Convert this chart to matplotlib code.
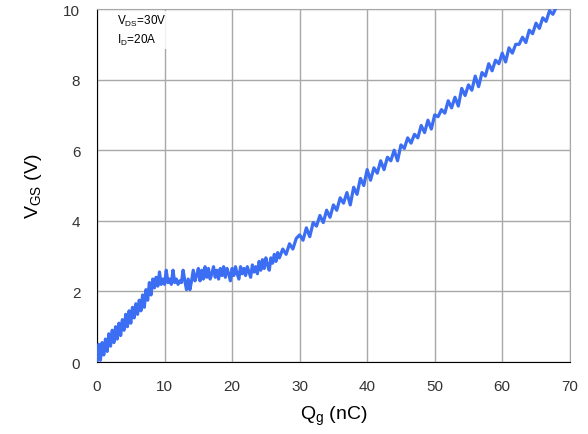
import matplotlib.pyplot as plt

plt.rcParams['font.family'] = ['Liberation Sans', 'DejaVu Sans']
plt.rcParams['mathtext.fontset'] = 'custom'
plt.rcParams['mathtext.rm'] = 'Liberation Sans'
plt.rcParams['mathtext.it'] = 'Liberation Sans'

# gate charge Qg (nC) and gate voltage Vgs (V)
# fine steps over the turn-on and the Miller plateau, coarser after
qg = [0.0, 0.25, 0.5, 0.75, 1.0, 1.25, 1.5, 1.75, 2.0, 2.25, 2.5, 2.75, 3.0, 3.25,
      3.5, 3.75, 4.0, 4.25, 4.5, 4.75, 5.0, 5.25, 5.5, 5.75, 6.0, 6.25, 6.5, 6.75,
      7.0, 7.25, 7.5, 7.75, 8.0, 8.25, 8.5, 8.75, 9.0, 9.25, 9.5, 9.75, 10.0, 10.25,
      10.5, 10.75, 11.0, 11.25, 11.5, 11.75, 12.0, 12.25, 12.5, 12.75, 13.0, 13.25,
      13.5, 13.75, 14.0, 14.25, 14.5, 14.75, 15.0, 15.25, 15.5, 15.75, 16.0, 16.25,
      16.5, 16.75, 17.0, 17.25, 17.5, 17.75, 18.0, 18.25, 18.5, 18.75, 19.0, 19.25,
      19.5, 19.75, 20.0, 20.25, 20.5, 20.75, 21.0, 21.25, 21.5, 21.75, 22.0, 22.25,
      22.5, 22.75, 23.0, 23.25, 23.5, 23.75, 24.0, 24.25, 24.5, 24.75, 25.0, 25.25,
      25.5, 25.75, 26.0, 26.25, 26.5, 26.75, 27.0,
      27.5, 28.0, 28.5, 29.0, 29.5, 30.0, 30.5, 31.0, 31.5, 32.0, 32.5, 33.0, 33.5,
      34.0, 34.5, 35.0, 35.5, 36.0, 36.5, 37.0, 37.5, 38.0, 38.5, 39.0, 39.5, 40.0,
      40.5, 41.0, 41.5, 42.0, 42.5, 43.0, 43.5, 44.0, 44.5, 45.0, 45.5, 46.0, 46.5,
      47.0, 47.5, 48.0, 48.5, 49.0, 49.5, 50.0, 50.5, 51.0, 51.5, 52.0, 52.5, 53.0,
      53.5, 54.0, 54.5, 55.0, 55.5, 56.0, 56.5, 57.0, 57.5, 58.0, 58.5, 59.0, 59.5,
      60.0, 60.5, 61.0, 61.5, 62.0, 62.5, 63.0, 63.5, 64.0, 64.5, 65.0, 65.5, 66.0,
      66.5, 67.0, 67.5, 68.0]
vgs = [0.0, 0.5, 0.05, 0.55, 0.2, 0.65, 0.3, 0.8, 0.45, 0.9, 0.55, 1.0, 0.65, 1.1,
       0.75, 1.2, 0.9, 1.35, 1.0, 1.45, 1.1, 1.55, 1.25, 1.65, 1.35, 1.75, 1.45, 1.9,
       1.55, 2.05, 1.75, 2.25, 1.9, 2.35, 2.1, 2.4, 2.15, 2.55, 2.2, 2.35, 2.2, 2.6,
       2.25, 2.35, 2.2, 2.6, 2.25, 2.35, 2.2, 2.3, 2.25, 2.6, 2.3, 2.05,
       2.35, 2.05, 2.3, 2.6, 2.3, 2.45, 2.65, 2.3, 2.6, 2.35, 2.7, 2.4,
       2.65, 2.35, 2.5, 2.7, 2.4, 2.6, 2.35, 2.65, 2.45, 2.7, 2.4, 2.65,
       2.5, 2.3, 2.65, 2.45, 2.7, 2.5, 2.35, 2.7, 2.5, 2.65, 2.45, 2.7,
       2.55, 2.4, 2.75, 2.55, 2.7, 2.5, 2.85, 2.6, 2.9, 2.65, 2.95, 2.75,
       2.6, 2.95, 2.8, 3.05, 2.85, 3.1, 2.95,
       3.2, 3.05, 3.35, 3.2, 3.5, 3.6, 3.45, 3.8, 3.55, 3.95, 3.85, 4.15, 3.95,
       4.3, 4.1, 4.45, 4.3, 4.65, 4.5, 4.8, 4.45, 4.95, 4.75, 5.2, 5.0, 5.45,
       5.15, 5.5, 5.35, 5.7, 5.45, 5.8, 5.7, 6.0, 5.7, 6.15, 6.05, 6.35, 6.2,
       6.45, 6.35, 6.7, 6.5, 6.85, 6.6, 7.0, 6.95, 7.15, 7.05, 7.4, 7.2, 7.5,
       7.25, 7.75, 7.55, 7.85, 7.7, 8.1, 7.8, 8.2, 8.1, 8.45, 8.25, 8.55, 8.45,
       8.75, 8.5, 8.9, 8.75, 9.0, 9.0, 9.2, 9.05, 9.4, 9.3, 9.6, 9.45, 9.75,
       9.65, 9.95, 9.85, 10.05]

fig = plt.figure(figsize=(5.88, 4.35), dpi=100)
ax = fig.add_axes([0.165, 0.1655, 0.804, 0.8115])

ax.plot(qg, vgs, color='#3b6ef2', lw=2.3, zorder=3)

ax.set_xlim(0, 70)
ax.set_ylim(0, 10)
ax.set_xticks(range(0, 71, 10))
ax.set_yticks(range(0, 11, 2))
ax.grid(True, color='#a8a8a8', lw=1)
ax.tick_params(length=0, labelsize=11, labelcolor='#333333')
ax.tick_params(axis='x', pad=12)
ax.tick_params(axis='y', pad=12)
for s in ['top', 'right']:
    ax.spines[s].set_color('#a8a8a8')
for s in ['left', 'bottom']:
    ax.spines[s].set_color('black')

ax.set_xlabel(r'$\mathrm{Q_g}$ (nC)', fontsize=14, labelpad=8)
ax.set_ylabel(r'$\mathrm{V_{GS}}$ (V)', fontsize=14, labelpad=14)

ax.text(3, 9.4, r'$\mathrm{V_{DS}}$=30V' + '\n' + r'$\mathrm{I_D}$=20A', fontsize=8.5,
        va='center', ha='left', linespacing=1.4,
        bbox=dict(facecolor='white', edgecolor='none', alpha=0.85, pad=1))

fig.savefig('out.png', dpi=100)
